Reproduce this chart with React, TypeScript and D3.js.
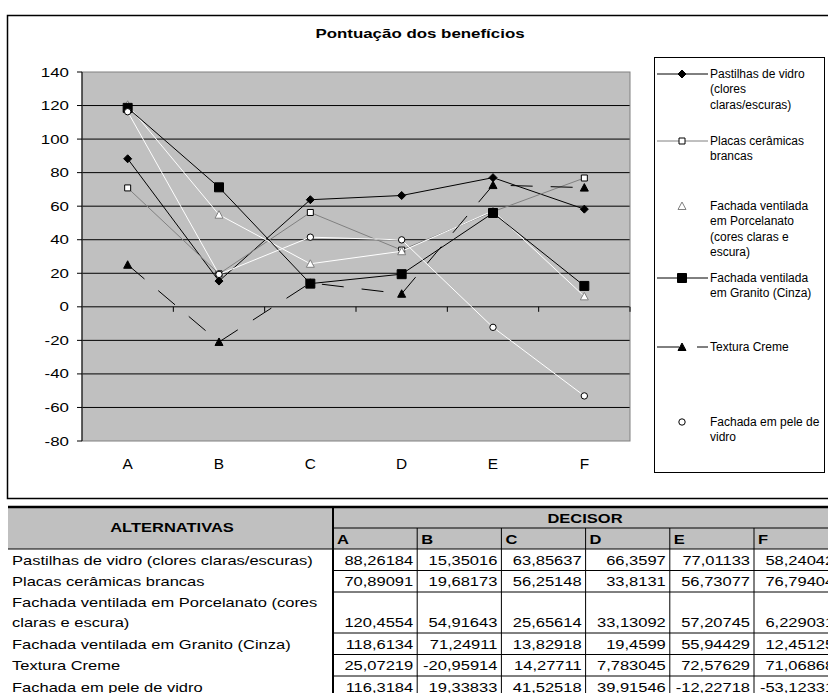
import React from "react"
import * as d3 from "d3"

// chart data
const categories = ["A", "B", "C", "D", "E", "F"]
const pastilhas = [88.26184, 15.35016, 63.85637, 66.3597, 77.01133, 58.24042]
const placas = [70.89091, 19.68173, 56.25148, 33.8131, 56.73077, 76.79404]
const porcelanato = [120.4554, 54.91643, 25.65614, 33.13092, 57.20745, 6.229031]
const granito = [118.6134, 71.24911, 13.82918, 19.4599, 55.94429, 12.45125]
const textura = [25.07219, -20.95914, 14.27711, 7.783045, 72.57629, 71.06868]
const peleVidro = [116.3184, 19.33833, 41.52518, 39.91546, -12.22718, -53.12331]
const yTicks = [-80, -60, -40, -20, 0, 20, 40, 60, 80, 100, 120, 140]

const legendLabels = [
    ["Pastilhas de vidro", "(clores", "claras/escuras)"],
    ["Placas cerâmicas", "brancas"],
    ["Fachada ventilada", "em Porcelanato", "(cores claras e", "escura)"],
    ["Fachada ventilada", "em Granito (Cinza)"],
    ["Textura Creme"],
    ["Fachada em pele de", "vidro"],
]
const tableLabels = [
    ["Pastilhas de vidro (clores claras/escuras)"],
    ["Placas cerâmicas brancas"],
    ["Fachada ventilada em Porcelanato (cores", "claras e escura)"],
    ["Fachada ventilada em Granito (Cinza)"],
    ["Textura Creme"],
    ["Fachada em pele de vidro"],
]

const seriesValues = [pastilhas, placas, porcelanato, granito, textura, peleVidro]

interface Style {
    stroke: string
    dash?: string
    marker: "diamond" | "square" | "triangle" | "bigsquare" | "circle"
    fill: string
    edge: string
}

const styles: Style[] = [
    {stroke: "#000", marker: "diamond", fill: "#000", edge: "#000"},
    {stroke: "#808080", marker: "square", fill: "#fff", edge: "#000"},
    {stroke: "#fff", marker: "triangle", fill: "#fff", edge: "#808080"},
    {stroke: "#000", marker: "bigsquare", fill: "#000", edge: "#000"},
    {stroke: "#000", dash: "22,18", marker: "triangle", fill: "#000", edge: "#000"},
    {stroke: "#fff", marker: "circle", fill: "#fff", edge: "#000"},
]

const FONT = "'Liberation Sans', Arial, sans-serif"
const W = 828
const H = 693
const margin = {left: 82, right: 198, top: 72, bottom: 252}
const TABLE_SX = 1.27

const markerPath = (kind: Style["marker"]) => {
    switch (kind) {
        case "diamond": return "M0,-4L4,0L0,4L-4,0Z"
        case "square": return "M-3,-3H3V3H-3Z"
        case "bigsquare": return "M-4.5,-4.5H4.5V4.5H-4.5Z"
        case "triangle": return "M0,-4L4,3.5L-4,3.5Z"
        default: return ""
    }
}

const Marker = ({s, x, y}: {s: Style, x: number, y: number}) => (
    s.marker === "circle"
        ? <circle cx={x} cy={y} r={3.2} fill={s.fill} stroke={s.edge} strokeWidth={1}/>
        : <path d={markerPath(s.marker)} transform={`translate(${x},${y})`}
                fill={s.fill} stroke={s.edge} strokeWidth={1}/>
)

// Excel stretched the chart text sideways
const Wide = ({x, y, sx, children, ...rest}: any) => (
    <text transform={`translate(${x},${y}) scale(${sx},1)`} {...rest}>{children}</text>
)

const fmt = (v: number) => String(v).replace(".", ",")

const App = () => {
    const x = d3.scalePoint<string>()
        .domain(categories)
        .range([margin.left, W - margin.right])
        .padding(0.5)
    const band = d3.scaleBand<string>()
        .domain(categories)
        .range([margin.left, W - margin.right])
    const y = d3.scaleLinear()
        .domain([-80, 140])
        .range([H - margin.bottom, margin.top])
    const line = d3.line<number>()
        .x((_, i) => x(categories[i]) as number)
        .y(d => y(d))

    const plotW = W - margin.right - margin.left
    const plotH = H - margin.bottom - margin.top

    // legend entries, vertical centres of each marker
    const legendY = [74, 141, 206, 278, 347, 422]

    // table layout
    const tableTop = 507
    const colLeft = 333
    const colW = 84.2
    const rowHeights = [21.5, 21.5, 41, 21.5, 21.5, 21.5]
    const rowTops: number[] = []
    rowHeights.reduce((acc, h) => { rowTops.push(acc); return acc + h }, 549)

    return (
        <svg width={W} height={H} style={{position: "absolute", left: 0, top: 0, background: "#fff"}}
             fontFamily={FONT}>
            {/* chart frame */}
            <rect x={7.5} y={15.5} width={900} height={483} fill="#fff" stroke="#000" strokeWidth={1.5}/>

            <Wide x={420} y={38} sx={1.3} textAnchor="middle" fontSize={13} fontWeight="bold">
                Pontuação dos benefícios
            </Wide>

            {/* plot area */}
            <rect x={margin.left} y={margin.top} width={plotW} height={plotH} fill="#c0c0c0"/>
            {yTicks.filter(t => t > -80 && t < 140).map(t => (
                <line key={t} x1={margin.left} x2={W - margin.right} y1={y(t)} y2={y(t)}
                      stroke="#000" strokeWidth={1}/>
            ))}
            <rect x={margin.left} y={margin.top} width={plotW} height={plotH} fill="none"
                  stroke="#808080" strokeWidth={1}/>

            {/* y axis */}
            <line x1={margin.left} x2={margin.left} y1={margin.top} y2={H - margin.bottom} stroke="#000"/>
            {yTicks.map(t => (
                <g key={t}>
                    <line x1={margin.left - 5} x2={margin.left} y1={y(t)} y2={y(t)} stroke="#000"/>
                    <Wide x={69} y={y(t) + 4.5} sx={1.3} textAnchor="end" fontSize={13}>{t}</Wide>
                </g>
            ))}

            {/* x axis on the zero line */}
            {categories.map(c => (
                <line key={c} x1={(band(c) as number) + band.bandwidth()} x2={(band(c) as number) + band.bandwidth()}
                      y1={y(0)} y2={y(0) + 5} stroke="#000"/>
            ))}
            {categories.map(c => (
                <Wide key={c} x={x(c)} y={469} sx={1.1} textAnchor="middle" fontSize={14}>{c}</Wide>
            ))}

            {/* series */}
            {seriesValues.map((vals, si) => (
                <g key={si}>
                    <path d={line(vals) as string} fill="none" stroke={styles[si].stroke}
                          strokeWidth={1} strokeDasharray={styles[si].dash}/>
                    {vals.map((v, i) => (
                        <Marker key={i} s={styles[si]} x={x(categories[i]) as number} y={y(v)}/>
                    ))}
                </g>
            ))}

            {/* legend */}
            <rect x={654.5} y={57.5} width={170} height={415} fill="#fff" stroke="#000" strokeWidth={1}/>
            {legendLabels.map((lines, si) => (
                <g key={si}>
                    <line x1={657} x2={708} y1={legendY[si]} y2={legendY[si]} stroke={styles[si].stroke}
                          strokeDasharray={styles[si].dash}/>
                    <Marker s={styles[si]} x={682} y={legendY[si]}/>
                    {lines.map((t, li) => (
                        <text key={li} x={710} y={legendY[si] + 4 + li * 15.3} fontSize={12}>{t}</text>
                    ))}
                </g>
            ))}

            {/* data table */}
            <rect x={8} y={tableTop + 1} width={830} height={41} fill="#c0c0c0"/>
            <line x1={8} x2={838} y1={tableTop} y2={tableTop} stroke="#000" strokeWidth={2.5}/>
            <line x1={colLeft} x2={838} y1={528} y2={528} stroke="#000"/>
            <line x1={8} x2={838} y1={549} y2={549} stroke="#000"/>
            <Wide x={172} y={532} sx={TABLE_SX} textAnchor="middle" fontSize={13} fontWeight="bold">
                ALTERNATIVAS
            </Wide>
            <Wide x={585} y={523} sx={TABLE_SX} textAnchor="middle" fontSize={13} fontWeight="bold">
                DECISOR
            </Wide>
            {categories.map((c, ci) => (
                <g key={c}>
                    <Wide x={colLeft + ci * colW + 4} y={544} sx={TABLE_SX} fontSize={13} fontWeight="bold">
                        {c}
                    </Wide>
                    {ci > 0 && (
                        <line x1={colLeft + ci * colW} x2={colLeft + ci * colW} y1={528} y2={H}
                              stroke="#000"/>
                    )}
                </g>
            ))}
            {seriesValues.map((vals, ri) => {
                const bottom = rowTops[ri] + rowHeights[ri]
                const lines = tableLabels[ri]
                return (
                    <g key={ri}>
                        {lines.map((t, li) => (
                            <Wide key={li} x={12} y={bottom - 6 - (lines.length - 1 - li) * 20.5}
                                  sx={TABLE_SX} fontSize={13}>{t}</Wide>
                        ))}
                        {vals.map((v, ci) => (
                            <Wide key={ci} x={colLeft + (ci + 1) * colW - 4} y={bottom - 6} sx={TABLE_SX}
                                  textAnchor="end" fontSize={13}>{fmt(v)}</Wide>
                        ))}
                        <line x1={colLeft} x2={838} y1={bottom} y2={bottom} stroke="#000"/>
                    </g>
                )
            })}
            <line x1={colLeft} x2={colLeft} y1={tableTop} y2={H} stroke="#000" strokeWidth={2}/>
        </svg>
    )
}

export default App
